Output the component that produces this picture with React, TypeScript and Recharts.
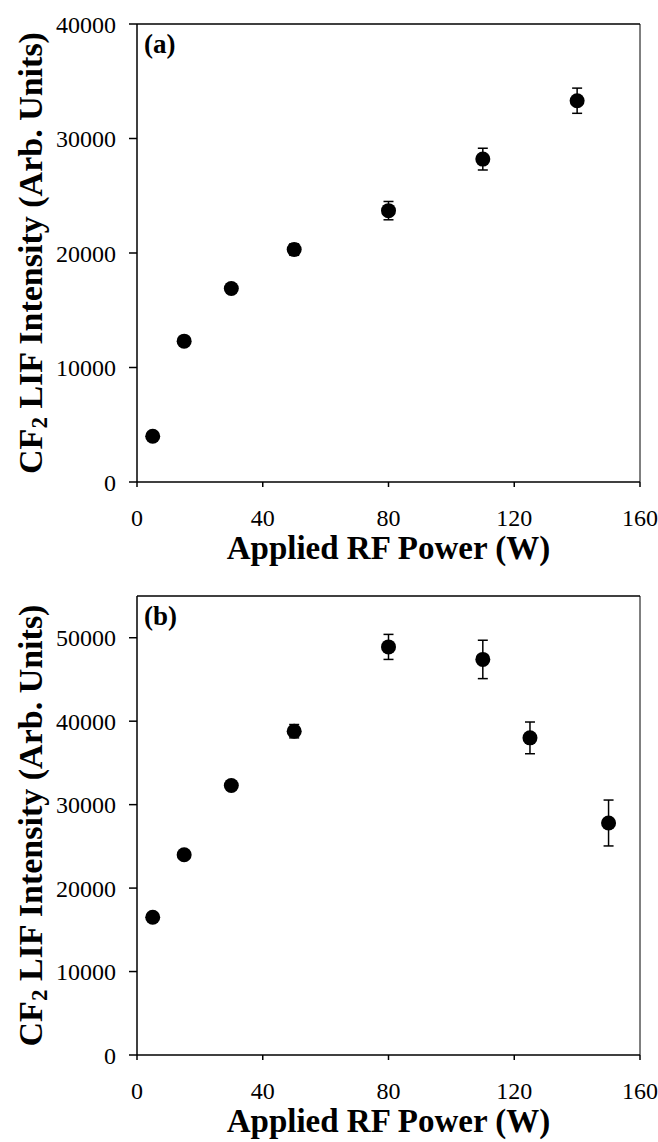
import React from 'react';
import { ScatterChart, Scatter, XAxis, YAxis, ErrorBar, ReferenceLine } from 'recharts';

const powerA = [5, 15, 30, 50, 80, 110, 140];
const intensityA = [4000, 12300, 16900, 20300, 23700, 28200, 33300];
const errorA = [300, 300, 400, 500, 800, 950, 1100];

const powerB = [5, 15, 30, 50, 80, 110, 125, 150];
const intensityB = [16500, 24000, 32300, 38800, 48900, 47400, 38000, 27800];
const errorB = [300, 400, 500, 800, 1500, 2300, 1900, 2750];

const xTicks = [0, 40, 80, 120, 160];
const yTicksA = [0, 10000, 20000, 30000, 40000];
const yTicksB = [0, 10000, 20000, 30000, 40000, 50000];

const FONT = '"Liberation Serif", "Times New Roman", serif';

const build = (xs: number[], ys: number[], es: number[]) =>
  xs.map((x, i) => ({ x, y: ys[i], err: es[i] }));

const dataA = build(powerA, intensityA, errorA);
const dataB = build(powerB, intensityB, errorB);

const Dot = (props: any) => <circle cx={props.cx} cy={props.cy} r={7.5} fill="#000" />;

const YLabel = (props: any) => {
  const vb = props.viewBox || {};
  const cx = vb.x + 30;
  const cy = vb.y + vb.height / 2;
  return (
    <text
      x={cx}
      y={cy}
      transform={`rotate(-90 ${cx} ${cy})`}
      textAnchor="middle"
      dominantBaseline="central"
      fontFamily={FONT}
      fontWeight="bold"
      fontSize={34}
      fill="#000"
    >
      <tspan>CF</tspan>
      <tspan fontSize={23} dy={9}>2</tspan>
      <tspan dy={-9}> LIF Intensity (Arb. Units)</tspan>
    </text>
  );
};

const XLabel = (props: any) => {
  const vb = props.viewBox || {};
  return (
    <text
      x={vb.x + vb.width / 2}
      y={vb.y + 77}
      textAnchor="middle"
      fontFamily={FONT}
      fontWeight="bold"
      fontSize={33}
      fill="#000"
    >
      Applied RF Power (W)
    </text>
  );
};

const makeTag = (tag: string) => (props: any) => {
  const vb = props.viewBox || {};
  return (
    <text x={vb.x + 7} y={vb.y + 29} fontFamily={FONT} fontWeight="bold" fontSize={27} fill="#000">
      {tag}
    </text>
  );
};

type PanelProps = {
  data: { x: number; y: number; err: number }[];
  yMax: number;
  yTicks: number[];
  tag: string;
  height: number;
  top: number;
  bottom: number;
};

const Panel = ({ data, yMax, yTicks, tag, height, top, bottom }: PanelProps) => (
  <ScatterChart
    width={658}
    height={height}
    margin={{ top, right: 18, bottom: bottom - 30, left: 0 }}
  >
    <XAxis
      type="number"
      dataKey="x"
      domain={[0, 160]}
      ticks={xTicks}
      height={30}
      stroke="#000"
      strokeWidth={1.5}
      tickSize={5}
      tickMargin={22}
      tick={{ fill: '#000', fontSize: 24, fontFamily: FONT }}
      label={{ content: XLabel }}
    />
    <YAxis
      type="number"
      dataKey="y"
      domain={[0, yMax]}
      ticks={yTicks}
      width={137}
      stroke="#000"
      strokeWidth={1.5}
      tickSize={8}
      tickMargin={13}
      tick={{ fill: '#000', fontSize: 24, fontFamily: FONT }}
      label={{ content: YLabel }}
    />
    <ReferenceLine y={yMax} stroke="#000" strokeWidth={1.5} label={{ content: makeTag(tag) }} />
    <ReferenceLine x={160} stroke="#000" strokeWidth={1} />
    <Scatter data={data} fill="#000" shape={Dot} isAnimationActive={false}>
      <ErrorBar dataKey="err" direction="y" width={5} stroke="#000" strokeWidth={1.5} />
    </Scatter>
  </ScatterChart>
);

export default function App() {
  return (
    <div style={{ position: 'absolute', left: 0, top: 0, width: 658, height: 1142, background: '#fff' }}>
      <div style={{ position: 'absolute', left: 0, top: 0 }}>
        <Panel data={dataA} yMax={40000} yTicks={yTicksA} tag="(a)" height={570} top={24} bottom={88} />
      </div>
      <div style={{ position: 'absolute', left: 0, top: 570 }}>
        <Panel data={dataB} yMax={55000} yTicks={yTicksB} tag="(b)" height={572} top={26} bottom={87} />
      </div>
    </div>
  );
}
